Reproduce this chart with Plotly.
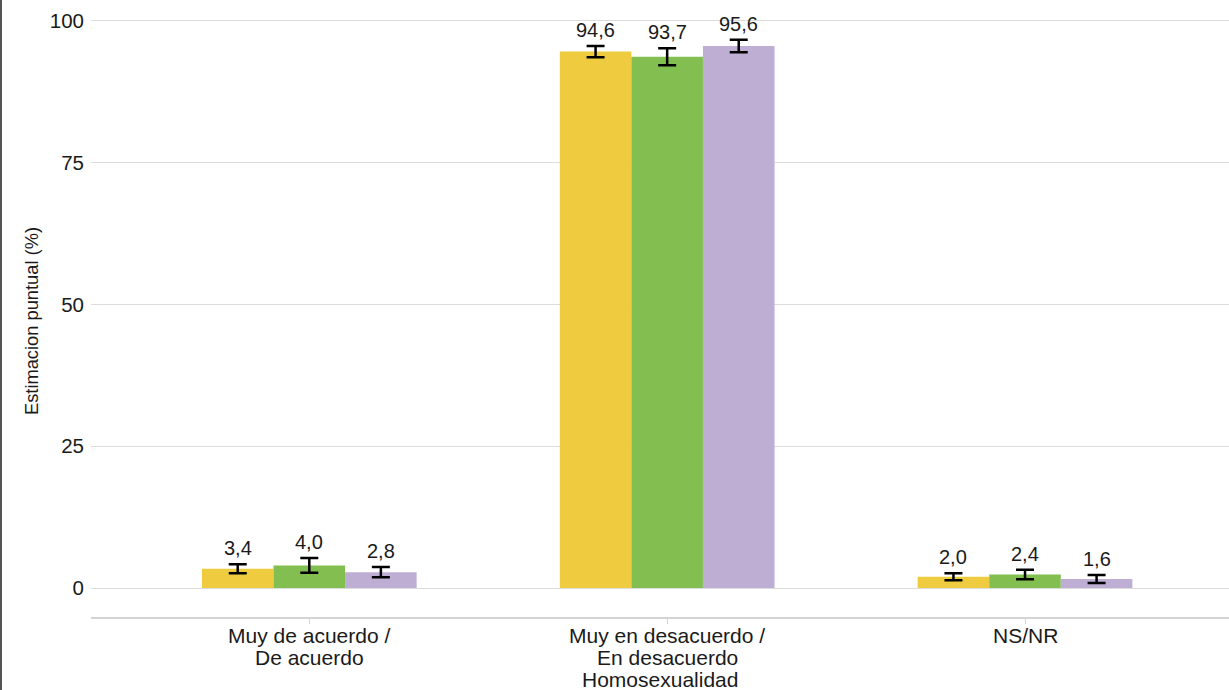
import plotly.graph_objects as go

categories = ["Muy de acuerdo /<br>De acuerdo", "Muy en desacuerdo /<br>En desacuerdo", "NS/NR"]
series_names = ["Serie 1", "Serie 2", "Serie 3"]
colors = ["#EFCC3F", "#82BF50", "#BEAED4"]
values = [
    [3.4, 94.6, 2.0],
    [4.0, 93.7, 2.4],
    [2.8, 95.6, 1.6],
]
errors = [
    [0.8, 1.0, 0.6],
    [1.3, 1.5, 0.85],
    [0.9, 1.1, 0.7],
]
y_ticks = [0, 25, 50, 75, 100]
x_title = "Homosexualidad"
y_title = "Estimacion puntual (%)"

W, H = 1229, 690
ML, MR, MT, MB = 91, 0, 0, 73
FONT = "Liberation Sans, Arial, sans-serif"
TXT = "#1a1a1a"
PH = H - MT - MB

fig = go.Figure()
for j, name in enumerate(series_names):
    fig.add_trace(go.Bar(
        x=list(range(len(categories))), y=values[j], name=name,
        marker=dict(color=colors[j], line=dict(width=0)),
        error_y=dict(type="data", array=errors[j], color="black", thickness=2.5, width=9),
        showlegend=False,
    ))

bar_w = 0.2
annotations = []
for j in range(len(series_names)):
    for i in range(len(categories)):
        v = values[j][i]
        annotations.append(dict(
            x=i + (j - 1) * bar_w, y=v + errors[j][i], xref="x", yref="y",
            text=f"{v:.1f}".replace(".", ","), showarrow=False,
            yanchor="bottom", yshift=3, font=dict(size=20, color=TXT, family=FONT),
        ))

# category labels, one annotation per line for tight line spacing
line_shifts = [-18.6, -40.6]
for i, cat in enumerate(categories):
    for k, line in enumerate(cat.split("<br>")):
        annotations.append(dict(
            x=i, y=0, xref="x", yref="paper", text=line, showarrow=False,
            yanchor="middle", yshift=line_shifts[k],
            font=dict(size=21, color=TXT, family=FONT),
        ))
annotations.append(dict(
    x=0.5, y=0, xref="paper", yref="paper", text=x_title, showarrow=False,
    yanchor="middle", yshift=-62, font=dict(size=21, color=TXT, family=FONT),
))
annotations.append(dict(
    x=0, y=(617 - 321) / PH, xref="paper", yref="paper", text=y_title, showarrow=False,
    textangle=-90, xanchor="center", yanchor="middle", xshift=-60,
    font=dict(size=18.3, color=TXT, family=FONT),
))

fig.update_layout(
    width=W, height=H,
    margin=dict(l=ML, r=MR, t=MT, b=MB),
    paper_bgcolor="white", plot_bgcolor="white",
    barmode="group", bargap=0.4, bargroupgap=0,
    separators=",.",
    font=dict(family=FONT, size=20, color=TXT),
    annotations=annotations,
    xaxis=dict(
        tickmode="array", tickvals=list(range(len(categories))),
        showticklabels=False,
        range=[-0.61, 2.57], showgrid=False, zeroline=False,
        showline=True, linecolor="#d4d4d4", linewidth=1.5,
        ticks="outside", ticklen=5, tickcolor="#d4d4d4", tickwidth=1,
    ),
    yaxis=dict(
        range=[-5.1, 103.7], tickvals=y_ticks, ticktext=[str(t) for t in y_ticks],
        showgrid=True, gridcolor="#dcdcdc", gridwidth=1.2, zeroline=False,
        showline=False, ticks="", ticklabelstandoff=6,
        tickfont=dict(size=20.5, color=TXT),
    ),
    shapes=[dict(type="line", xref="paper", yref="paper",
                 x0=-(ML - 1) / (W - ML - MR), x1=-(ML - 1) / (W - ML - MR),
                 y0=-MB / PH, y1=1 + MT / PH,
                 line=dict(color="#555555", width=2))],
)

fig.write_html("out.html", config={"displayModeBar": False},
               post_script="document.body.style.margin='0';document.body.style.overflow='hidden';")
